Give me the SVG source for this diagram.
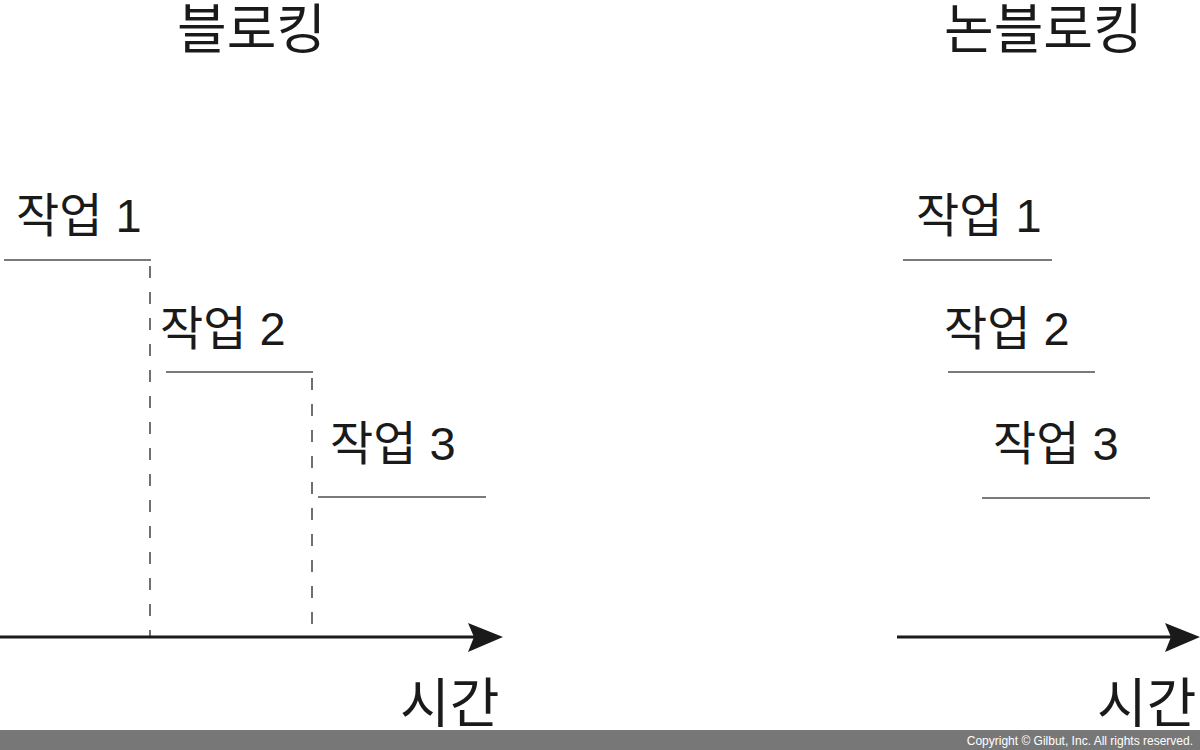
<svg xmlns="http://www.w3.org/2000/svg" width="1200" height="750" viewBox="0 0 1200 750">
<style>
text{font-family:"Liberation Sans","Noto Sans CJK KR",sans-serif;fill:#1a1a1a}
.title{font-size:54px}
.task{font-size:47px}
.time{font-size:54px}
.bar{stroke:#7a7a7a;stroke-width:2.2;fill:none}
.dash{stroke:#707070;stroke-width:2;stroke-dasharray:12 14;fill:none}
.axis{stroke:#1a1a1a;stroke-width:3;fill:none}
.head{fill:#1a1a1a}
.copy{font-family:"Liberation Sans",sans-serif;font-size:12px;fill:#ffffff}
</style>
<rect width="1200" height="750" fill="#ffffff"/>
<g id="blocking">
<g id="title-blocking"><text class="title" x="177" y="49">블로킹</text></g>
<g id="b-task1"><text class="task" x="16" y="232">작업 1</text><line class="bar" x1="4" y1="260" x2="151" y2="260"/></g>
<g id="b-task2"><text class="task" x="160" y="345">작업 2</text><line class="bar" x1="166" y1="372" x2="313" y2="372"/></g>
<g id="b-task3"><text class="task" x="330" y="460">작업 3</text><line class="bar" x1="318" y1="497" x2="486" y2="497"/></g>
<g id="b-time"><text class="time" x="400" y="723">시간</text></g>
</g>
<g id="nonblocking">
<g id="title-nonblocking"><text class="title" x="944" y="49">논블로킹</text></g>
<g id="n-task1"><text class="task" x="916" y="232">작업 1</text><line class="bar" x1="903" y1="260" x2="1052" y2="260"/></g>
<g id="n-task2"><text class="task" x="944" y="345">작업 2</text><line class="bar" x1="948" y1="372" x2="1095" y2="372"/></g>
<g id="n-task3"><text class="task" x="993" y="460">작업 3</text><line class="bar" x1="982" y1="498" x2="1150" y2="498"/></g>
<g id="n-time"><text class="time" x="1097" y="723">시간</text></g>
</g>
<g id="connectors">
<line class="dash" x1="150" y1="266" x2="150" y2="636"/>
<line class="dash" x1="312" y1="378" x2="312" y2="636"/>
<line class="axis" x1="0" y1="637" x2="476" y2="637"/>
<polygon class="head" points="468,623 503,637 468,652 474,637"/>
<line class="axis" x1="897" y1="637" x2="1172" y2="637"/>
<polygon class="head" points="1165,623 1200,637 1165,652 1171,637"/>
</g>
<g id="footer">
<rect x="0" y="730" width="1200" height="20" fill="#777777"/>
<text class="copy" x="1193" y="745" text-anchor="end">Copyright © Gilbut, Inc. All rights reserved.</text>
</g>
</svg>
